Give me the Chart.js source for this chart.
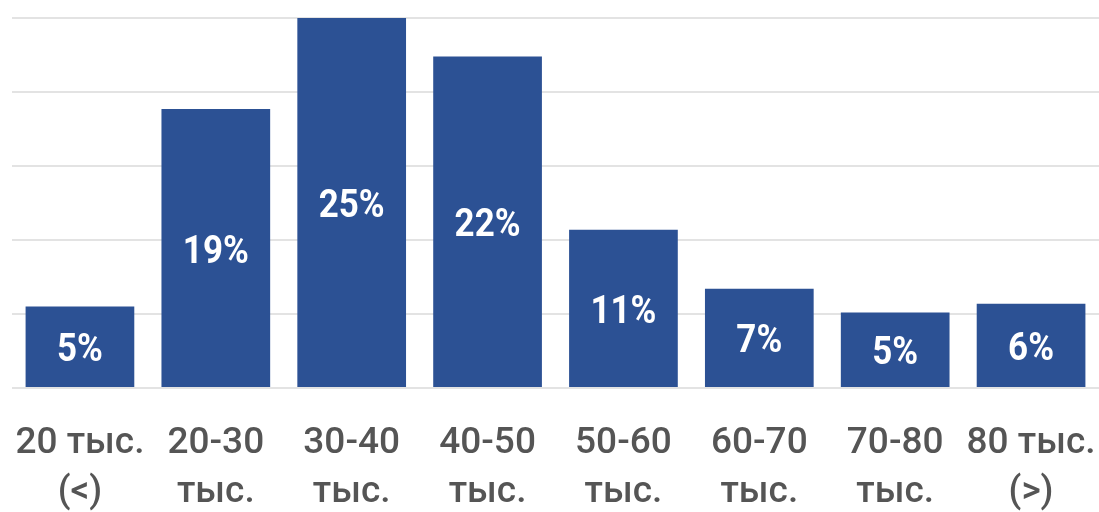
<!DOCTYPE html>
<html>
<head>
<meta charset="utf-8">
<script src="https://cdn.jsdelivr.net/npm/chart.js@4.4.1/dist/chart.umd.min.js"></script>
<style>
  html, body { margin: 0; padding: 0; background: #fff; }
  #wrap { width: 1099px; height: 512px; position: relative; }
</style>
</head>
<body>
<div id="wrap"><canvas id="chart"></canvas></div>
<script>
// salary ranges (тыс. руб.)
const categories = [
    ['20 тыс.', '(<)'],
    ['20-30', 'тыс.'],
    ['30-40', 'тыс.'],
    ['40-50', 'тыс.'],
    ['50-60', 'тыс.'],
    ['60-70', 'тыс.'],
    ['70-80', 'тыс.'],
    ['80 тыс.', '(>)']
];
// bar heights, in %
const shares = [5.5, 18.85, 25, 22.4, 10.7, 6.7, 5.1, 5.7];
// text printed inside the bars
const shareLabels = ['5%', '19%', '25%', '22%', '11%', '7%', '5%', '6%'];
const yTicks = [0, 5, 10, 15, 20, 25];

const barColor = '#2c5194';

// percentages in the middle of each bar + two-line category names under the axis
const drawTexts = {
    id: 'drawTexts',
    afterDatasetsDraw(chart) {
        const ctx = chart.ctx;
        const meta = chart.getDatasetMeta(0);
        const xScale = chart.scales.x;
        const bottom = chart.chartArea.bottom;
        ctx.save();
        ctx.textAlign = 'center';

        ctx.fillStyle = '#ffffff';
        ctx.font = 'bold 38px Roboto';
        ctx.textBaseline = 'middle';
        meta.data.forEach((bar, i) => {
            const midY = (bar.y + bar.base) / 2 + 5;
            ctx.save();
            ctx.translate(bar.x, midY);
            ctx.scale(0.92, 1);
            ctx.fillText(shareLabels[i], 0, 0);
            ctx.restore();
        });

        ctx.fillStyle = '#555555';
        ctx.font = '500 37px Roboto';
        ctx.textBaseline = 'alphabetic';
        categories.forEach((lines, i) => {
            const x = xScale.getPixelForValue(i);
            lines.forEach((txt, j) => {
                ctx.fillText(txt, x, bottom + 65 + j * 49);
            });
        });
        ctx.restore();
    }
};

new Chart(document.getElementById('chart'), {
    type: 'bar',
    data: {
        labels: categories,
        datasets: [{
            data: shares,
            backgroundColor: barColor,
            borderWidth: 0,
            barPercentage: 0.8,
            categoryPercentage: 1.0
        }]
    },
    plugins: [drawTexts],
    options: {
        responsive: true,
        maintainAspectRatio: false,
        animation: false,
        layout: { padding: { left: 12, right: 0, top: 18, bottom: 0 } },
        plugins: {
            legend: { display: false },
            tooltip: { enabled: false }
        },
        scales: {
            x: {
                grid: { display: false },
                border: { display: false },
                ticks: { display: false },
                afterFit: axis => {
                    axis.height = 124;
                    axis.paddingLeft = 0;
                    axis.paddingRight = 0;
                }
            },
            y: {
                min: 0,
                max: 25,
                afterBuildTicks: axis => { axis.ticks = yTicks.map(v => ({ value: v })); },
                grid: { color: '#e3e3e3', lineWidth: 2, drawTicks: false },
                border: { display: false },
                ticks: { display: false }
            }
        }
    }
});
</script>
</body>
</html>
